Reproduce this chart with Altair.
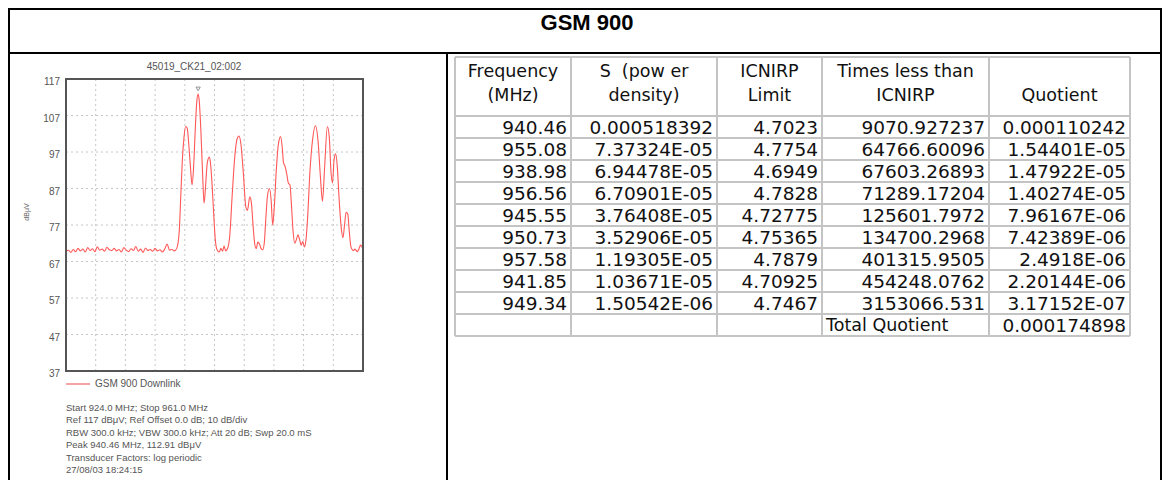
import altair as alt
import pandas as pd

# ---------------- data ----------------
FREQ_MHZ = [
    924.0, 924.3, 924.6, 924.9, 925.2, 925.5, 925.8, 926.1, 926.4, 926.7,
    927.0, 927.3, 927.6, 927.9, 928.2, 928.5, 928.8, 929.1, 929.4, 929.7,
    930.0, 930.3, 930.6, 930.9, 931.2, 931.5, 931.8, 932.1, 932.4, 932.7,
    933.0, 933.3, 933.6, 933.9, 934.2, 934.5, 934.8, 935.1, 935.4, 935.7,
    936.0, 936.3, 936.6, 936.9, 937.2, 937.5, 937.8,
    938.1, 938.3, 938.5, 938.7, 938.9, 939.1, 939.3, 939.5, 939.7, 939.9,
    940.1, 940.3, 940.46, 940.6, 940.8, 941.0, 941.2, 941.4, 941.6, 941.85,
    942.0, 942.2, 942.4, 942.6, 942.8, 943.1, 943.3, 943.5, 943.7, 943.9,
    944.1, 944.4, 944.7, 945.0, 945.3, 945.55, 945.8, 946.1, 946.4, 946.6,
    946.9, 947.1, 947.3, 947.5, 947.7, 947.9, 948.1, 948.3, 948.5, 948.7,
    948.9, 949.1, 949.34, 949.55, 949.75, 949.95, 950.2, 950.45, 950.73, 950.95,
    951.1, 951.3, 951.5, 951.7, 951.9, 952.1, 952.3, 952.5, 952.7, 952.9,
    953.1, 953.3, 953.5, 953.7, 953.9, 954.1, 954.4, 954.7, 955.08, 955.4,
    955.7, 955.95, 956.2, 956.56, 956.8, 957.0, 957.2, 957.4, 957.58, 957.8,
    958.0, 958.3, 958.5, 958.7, 958.9, 959.1, 959.3, 959.5, 959.8, 960.0,
    960.3, 960.5, 960.7, 961.0,
]
LEVEL_DBUV = [
    69.8, 70.1, 69.5, 70.3, 69.7, 70.6, 69.9, 70.4, 69.6, 70.8,
    70.0, 70.5, 69.7, 71.0, 70.1, 70.4, 69.8, 70.9, 70.2, 70.0,
    70.6, 69.9, 70.3, 69.6, 70.8, 70.1, 69.7, 70.5, 70.0, 71.1,
    69.8, 70.4, 69.5, 70.7, 70.0, 70.3, 69.8, 70.6, 69.9, 70.2,
    69.6, 70.4, 71.8, 70.1, 70.3, 69.9, 70.6,
    75.0, 85.0, 95.0, 101.0, 104.0, 103.5, 99.0, 93.0, 88.0, 93.0,
    103.0, 111.0, 112.9, 111.0, 103.0, 92.0, 83.0, 88.0, 94.0, 95.6,
    94.0, 88.0, 80.0, 73.0, 70.3, 69.6, 70.6, 69.8, 71.2, 69.9,
    70.4, 74.0, 85.0, 95.0, 100.5, 101.4, 99.0, 91.0, 82.0, 81.0,
    84.7, 83.0, 77.0, 72.0, 70.5, 72.3, 71.8, 70.6, 70.2, 72.0,
    79.0, 85.0, 87.0, 84.0, 77.0, 82.0, 92.0, 99.0, 101.2, 98.0,
    94.0, 93.0, 91.0, 88.5, 88.0, 82.0, 75.0, 72.0, 73.0, 74.3,
    73.0, 71.5, 72.5, 71.0, 73.0, 79.0, 92.0, 100.0, 104.2, 100.0,
    90.0, 83.5, 92.0, 104.0, 101.0, 92.0, 88.5, 95.0, 96.5, 93.0,
    85.0, 76.0, 73.5, 77.0, 80.5, 80.0, 75.0, 71.0, 70.0, 70.4,
    69.7, 70.5, 71.5, 70.3,
]
PEAK_FREQ = [940.46]
PEAK_LEVEL = [112.91]
Y_TICKS = [117, 107, 97, 87, 77, 67, 57, 47, 37]
GRID_FREQ = [927.7, 931.4, 935.1, 938.8, 942.5, 946.2, 949.9, 953.6, 957.3]

TABLE_FREQ = ["940.46", "955.08", "938.98", "956.56", "945.55", "950.73", "957.58", "941.85", "949.34"]
TABLE_S = ["0.000518392", "7.37324E-05", "6.94478E-05", "6.70901E-05", "3.76408E-05",
           "3.52906E-05", "1.19305E-05", "1.03671E-05", "1.50542E-06"]
TABLE_LIMIT = ["4.7023", "4.7754", "4.6949", "4.7828", "4.72775", "4.75365", "4.7879", "4.70925", "4.7467"]
TABLE_TIMES = ["9070.927237", "64766.60096", "67603.26893", "71289.17204", "125601.7972",
               "134700.2968", "401315.9505", "454248.0762", "3153066.531"]
TABLE_QUOT = ["0.000110242", "1.54401E-05", "1.47922E-05", "1.40274E-05", "7.96167E-06",
              "7.42389E-06", "2.4918E-06", "2.20144E-06", "3.17152E-07"]
TOTAL_LABEL = "Total Quotient"
TOTAL_QUOTIENT = "0.000174898"
HEADERS = [["Frequency", "(MHz)"], ["S\u00a0\u00a0(pow er", "density)"], ["ICNIRP", "Limit"],
           ["Times less than", "ICNIRP"], ["", "Quotient"]]

MAIN_TITLE = "GSM 900"
PLOT_TITLE = "45019_CK21_02:002"
Y_TITLE = "dBμV"
LEGEND_LABEL = "GSM 900 Downlink"
INFO_LINES = [
    "Start 924.0 MHz; Stop 961.0 MHz",
    "Ref 117 dBμV; Ref Offset 0.0 dB; 10 dB/div",
    "RBW 300.0 kHz; VBW 300.0 kHz; Att 20 dB; Swp 20.0 mS",
    "Peak 940.46 MHz, 112.91 dBμV",
    "Transducer Factors: log periodic",
    "27/08/03 18:24:15",
]

# ---------------- layout (page pixels) ----------------
W, H = 1155, 472
OX, OY = 8, 8


def px(x):
    return x - OX


def py(y):
    return y - OY


DUMMY = pd.DataFrame({"a": [0]})
SMALL_FONT = "Liberation Sans"
TABLE_FONT = "DejaVu Sans"


def rule(x1, x2, y1, y2, color, width, dash=None):
    kw = dict(color=color, strokeWidth=width)
    if dash:
        kw["strokeDash"] = dash
    return alt.Chart(DUMMY).mark_rule(**kw).encode(
        x=alt.value(px(x1)), x2=alt.value(px(x2)), y=alt.value(py(y1)), y2=alt.value(py(y2))
    )


def label(text, x, y, size, color, align="left", weight="normal", font=SMALL_FONT,
          angle=0, baseline="middle", line_height=None):
    kw = dict(align=align, baseline=baseline, fontSize=size, color=color,
              fontWeight=weight, font=font, angle=angle)
    if line_height:
        kw["lineHeight"] = line_height
    return alt.Chart(DUMMY).mark_text(**kw).encode(
        x=alt.value(px(x)), y=alt.value(py(y)), text=alt.value(text)
    )


layers = []

# outer frame and dividers
BLACK = "#000000"
layers += [
    rule(9, 9, 8, 480, BLACK, 2),
    rule(1161, 1161, 8, 480, BLACK, 2),
    rule(8, 1162, 9, 9, BLACK, 2),
    rule(8, 1162, 53, 53, BLACK, 2),
    rule(447, 447, 53, 480, BLACK, 2),
]
layers.append(label(MAIN_TITLE, 587, 23, 22, "#000000", align="center", weight="bold"))

# ---------------- spectrum panel ----------------
FX0, FX1, FY0, FY1 = 66, 363, 79, 371
XS = alt.Scale(domain=[924, 961], range=[px(FX0), px(FX1)], nice=False, zero=False)
YS = alt.Scale(domain=[37, 117], range=[py(FY1), py(FY0)], nice=False, zero=False)

GRID_C = "#c6c6c6"
layers.append(
    alt.Chart(pd.DataFrame({"f": GRID_FREQ})).mark_rule(color=GRID_C, strokeWidth=1, strokeDash=[2, 3]).encode(
        x=alt.X("f:Q", scale=XS, axis=None), y=alt.value(py(FY0)), y2=alt.value(py(FY1))
    )
)
layers.append(
    alt.Chart(pd.DataFrame({"v": Y_TICKS[1:-1]})).mark_rule(color=GRID_C, strokeWidth=1, strokeDash=[2, 3]).encode(
        y=alt.Y("v:Q", scale=YS, axis=None), x=alt.value(px(FX0)), x2=alt.value(px(FX1))
    )
)
layers.append(
    alt.Chart(pd.DataFrame({"v": Y_TICKS})).mark_text(
        align="right", baseline="middle", dy=3, fontSize=10, color="#555555", font=SMALL_FONT
    ).encode(x=alt.value(px(60)), y=alt.Y("v:Q", scale=YS, axis=None), text="v:Q")
)
layers.append(
    alt.Chart(pd.DataFrame({"f": FREQ_MHZ, "lvl": LEVEL_DBUV})).mark_line(
        color="#ff5757", strokeWidth=1.1, interpolate="monotone"
    ).encode(x=alt.X("f:Q", scale=XS, axis=None), y=alt.Y("lvl:Q", scale=YS, axis=None))
)
layers.append(
    alt.Chart(pd.DataFrame({"f": PEAK_FREQ, "lvl": PEAK_LEVEL})).mark_point(
        shape="triangle-down", size=18, filled=False, color="#666666", strokeWidth=1, yOffset=-5
    ).encode(x=alt.X("f:Q", scale=XS, axis=None), y=alt.Y("lvl:Q", scale=YS, axis=None))
)
layers.append(
    alt.Chart(DUMMY).mark_rect(fillOpacity=0, stroke="#555555", strokeWidth=2).encode(
        x=alt.value(px(FX0)), x2=alt.value(px(FX1)), y=alt.value(py(FY0)), y2=alt.value(py(FY1))
    )
)
layers.append(label(PLOT_TITLE, 194, 67, 10, "#555555", align="center"))
layers.append(label(Y_TITLE, 27, 212, 7, "#666666", align="center", angle=270))
layers.append(rule(66, 90, 384, 384, "#f7a3a3", 2))
layers.append(label(LEGEND_LABEL, 95, 384, 10, "#555555"))
for i, line in enumerate(INFO_LINES):
    layers.append(label(line, 66, 408 + 12.4 * i, 9.5, "#555555"))

# ---------------- table ----------------
TBL_X = [455, 571, 717, 822, 989, 1130]
TBL_TOP = 57
HDR_BOT = 116
ROWH = 22
N_ROWS = len(TABLE_FREQ) + 1
TBL_C = "#c4c4c4"
for x in TBL_X:
    layers.append(rule(x, x, TBL_TOP, HDR_BOT + N_ROWS * ROWH, TBL_C, 2))
for y in [TBL_TOP, HDR_BOT] + [HDR_BOT + k * ROWH for k in range(1, N_ROWS + 1)]:
    layers.append(rule(TBL_X[0], TBL_X[-1], y, y, TBL_C, 2))

ROW1_C = HDR_BOT + ROWH / 2 + 1
RS = alt.Scale(domain=[0, N_ROWS - 1], range=[py(ROW1_C), py(ROW1_C + (N_ROWS - 1) * ROWH)], nice=False, zero=False)

tbl = pd.DataFrame({
    "r": list(range(len(TABLE_FREQ))),
    "c0": TABLE_FREQ, "c1": TABLE_S, "c2": TABLE_LIMIT, "c3": TABLE_TIMES, "c4": TABLE_QUOT,
})
TXT_SIZE = 18.5
for ci in range(5):
    layers.append(
        alt.Chart(tbl).mark_text(align="right", baseline="middle", fontSize=TXT_SIZE, font=TABLE_FONT, color="#111111").encode(
            x=alt.value(px(TBL_X[ci + 1] - 4)), y=alt.Y("r:Q", scale=RS, axis=None), text=f"c{ci}:N"
        )
    )
tot = pd.DataFrame({"r": [N_ROWS - 1], "lab": [TOTAL_LABEL], "val": [TOTAL_QUOTIENT]})
layers.append(
    alt.Chart(tot).mark_text(align="left", baseline="middle", fontSize=17.5, font=TABLE_FONT, color="#111111").encode(
        x=alt.value(px(TBL_X[3] + 4)), y=alt.Y("r:Q", scale=RS, axis=None), text="lab:N"
    )
)
layers.append(
    alt.Chart(tot).mark_text(align="right", baseline="middle", fontSize=TXT_SIZE, font=TABLE_FONT, color="#111111").encode(
        x=alt.value(px(TBL_X[5] - 4)), y=alt.Y("r:Q", scale=RS, axis=None), text="val:N"
    )
)
for ci, hdr in enumerate(HEADERS):
    cx = (TBL_X[ci] + TBL_X[ci + 1]) / 2
    layers.append(label(hdr, cx, 63, 17.5, "#111111", align="center", font=TABLE_FONT,
                        baseline="top", line_height=24))

chart = (
    alt.layer(*layers)
    .resolve_scale(x="independent", y="independent")
    .properties(width=W, height=H, autosize=alt.AutoSizeParams(type="none"), padding=0)
    .configure_view(stroke=None)
)

chart.save("out.html", embed_options={"renderer": "svg", "actions": False})
